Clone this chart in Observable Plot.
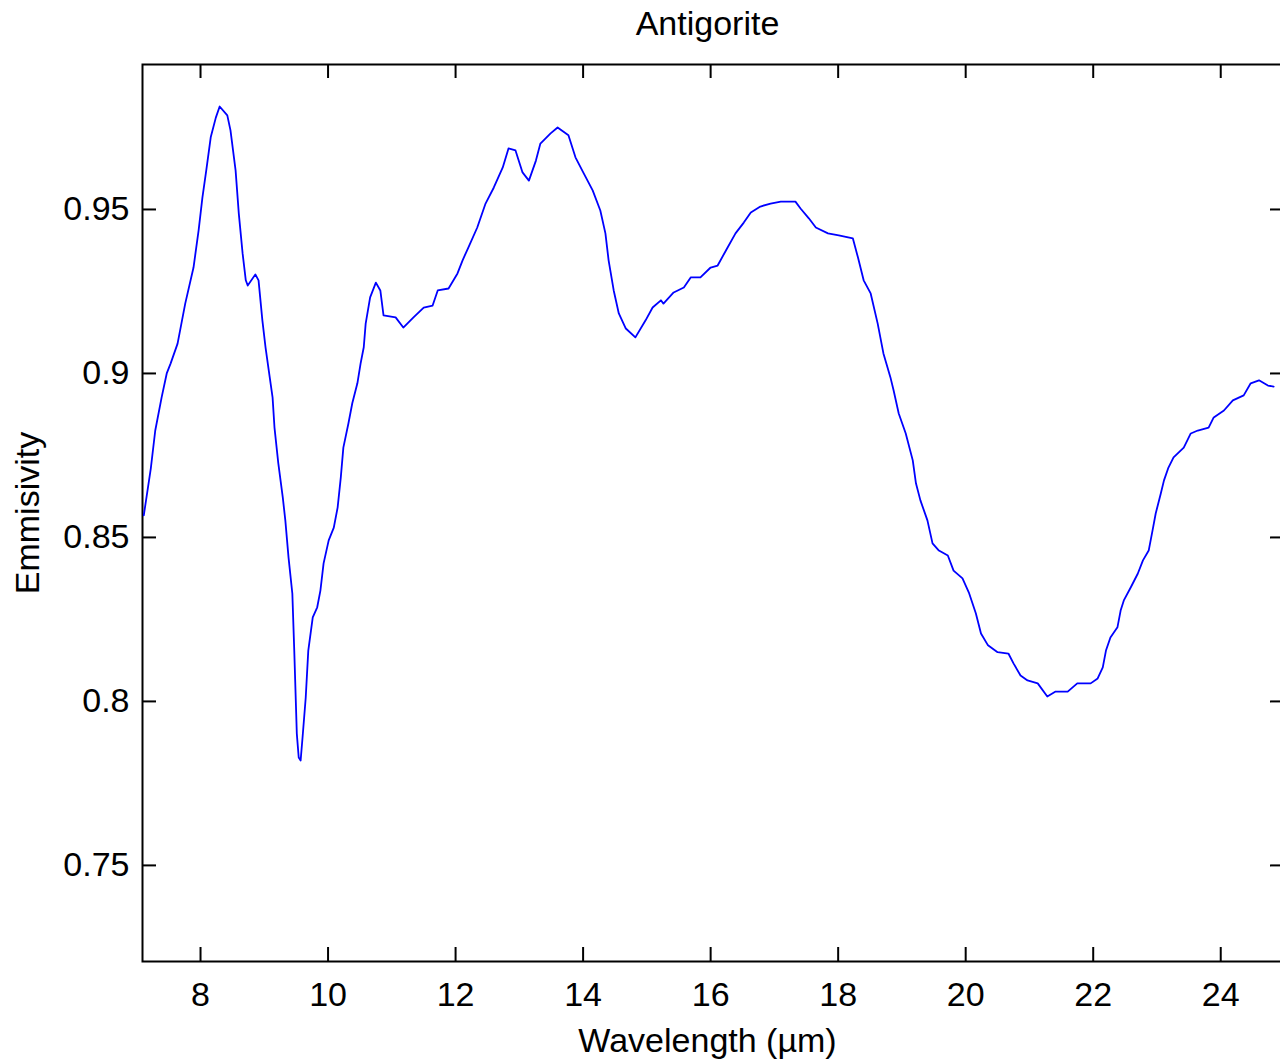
<!DOCTYPE html>
<html>
<head>
<meta charset="utf-8">
<script src="https://cdn.jsdelivr.net/npm/d3@7"></script>
<script src="https://cdn.jsdelivr.net/npm/@observablehq/plot@0.6"></script>
<style>
  html, body { margin: 0; padding: 0; background: #fff; overflow: hidden; }
  #chart svg { display: block; overflow: hidden; }
</style>
</head>
<body>
<div id="chart"></div>
<script>
const title = "Antigorite";
const xLabel = "Wavelength (\u00b5m)";
const yLabel = "Emmisivity";

const xTicks = [8, 10, 12, 14, 16, 18, 20, 22, 24];
const xTickLabels = ["8", "10", "12", "14", "16", "18", "20", "22", "24"];
const yTicks = [0.75, 0.8, 0.85, 0.9, 0.95];
const yTickLabels = ["0.75", "0.8", "0.85", "0.9", "0.95"];

const wavelength = [
  7.11, 7.22, 7.29, 7.39, 7.47, 7.53, 7.64, 7.76, 7.89, 7.97,
  8.03, 8.09, 8.16, 8.24, 8.30, 8.42, 8.47, 8.55, 8.60, 8.66,
  8.71, 8.74, 8.86, 8.91, 8.97, 9.02, 9.07, 9.13, 9.16, 9.22,
  9.29, 9.33, 9.38, 9.44, 9.47, 9.51, 9.54, 9.57, 9.60, 9.65,
  9.69, 9.76, 9.83, 9.88, 9.93, 10.01, 10.09, 10.15, 10.20, 10.24,
  10.32, 10.38, 10.46, 10.51, 10.56, 10.59, 10.66, 10.75, 10.82, 10.87,
  11.06, 11.18, 11.34, 11.50, 11.64, 11.72, 11.89, 12.03, 12.11, 12.20,
  12.34, 12.47, 12.60, 12.74, 12.83, 12.94, 13.05, 13.15, 13.26, 13.33,
  13.49, 13.60, 13.77, 13.88, 14.01, 14.15, 14.27, 14.35, 14.40, 14.48,
  14.56, 14.67, 14.82, 14.98, 15.09, 15.22, 15.26, 15.42, 15.58, 15.69,
  15.84, 16.00, 16.11, 16.24, 16.39, 16.52, 16.63, 16.78, 16.94, 17.10,
  17.33, 17.41, 17.54, 17.65, 17.84, 18.01, 18.23, 18.31, 18.40, 18.51,
  18.62, 18.71, 18.82, 18.87, 18.95, 19.06, 19.17, 19.22, 19.29, 19.40,
  19.48, 19.58, 19.72, 19.81, 19.95, 20.05, 20.16, 20.24, 20.35, 20.50,
  20.67, 20.75, 20.86, 20.97, 21.13, 21.28, 21.41, 21.60, 21.75, 21.96,
  22.07, 22.15, 22.20, 22.27, 22.38, 22.43, 22.48, 22.59, 22.70, 22.78,
  22.87, 22.93, 22.98, 23.06, 23.11, 23.18, 23.26, 23.42, 23.53, 23.64,
  23.81, 23.89, 24.05, 24.19, 24.36, 24.47, 24.60, 24.74, 24.83
];
const emissivity = [
  0.8567, 0.8710, 0.8826, 0.8927, 0.9000, 0.9030, 0.9091, 0.9213, 0.9323, 0.9436,
  0.9537, 0.9619, 0.9720, 0.9780, 0.9814, 0.9787, 0.9741, 0.9619, 0.9488, 0.9366,
  0.9284, 0.9268, 0.9302, 0.9284, 0.9162, 0.9079, 0.9009, 0.8927, 0.8835, 0.8726,
  0.8622, 0.8552, 0.8439, 0.8329, 0.8155, 0.7902, 0.7829, 0.7820, 0.7890, 0.8012,
  0.8155, 0.8256, 0.8287, 0.8338, 0.8421, 0.8491, 0.8530, 0.8591, 0.8683, 0.8774,
  0.8848, 0.8909, 0.8970, 0.9030, 0.9080, 0.9152, 0.9232, 0.9277, 0.9253, 0.9177,
  0.9171, 0.9140, 0.9171, 0.9201, 0.9207, 0.9253, 0.9259, 0.9305, 0.9345, 0.9384,
  0.9445, 0.9518, 0.9567, 0.9628, 0.9686, 0.9680, 0.9613, 0.9588, 0.9649, 0.9701,
  0.9732, 0.9750, 0.9726, 0.9659, 0.9610, 0.9558, 0.9497, 0.9427, 0.9345, 0.9253,
  0.9183, 0.9137, 0.9110, 0.9162, 0.9201, 0.9223, 0.9213, 0.9247, 0.9262, 0.9293,
  0.9293, 0.9323, 0.9329, 0.9375, 0.9427, 0.9460, 0.9491, 0.9509, 0.9518, 0.9524,
  0.9524, 0.9503, 0.9473, 0.9445, 0.9427, 0.9421, 0.9412, 0.9354, 0.9284, 0.9244,
  0.9152, 0.9061, 0.8988, 0.8948, 0.8878, 0.8817, 0.8735, 0.8665, 0.8613, 0.8552,
  0.8482, 0.8460, 0.8445, 0.8399, 0.8375, 0.8332, 0.8268, 0.8207, 0.8171, 0.8150,
  0.8146, 0.8116, 0.8079, 0.8064, 0.8055, 0.8015, 0.8030, 0.8030, 0.8055, 0.8055,
  0.8070, 0.8104, 0.8155, 0.8195, 0.8226, 0.8277, 0.8308, 0.8348, 0.8390, 0.8430,
  0.8460, 0.8521, 0.8573, 0.8634, 0.8674, 0.8713, 0.8744, 0.8774, 0.8817, 0.8826,
  0.8835, 0.8866, 0.8887, 0.8918, 0.8933, 0.8970, 0.8979, 0.8963, 0.8960
];

const data = wavelength.map((w, i) => ({w, e: emissivity[i]}));
const xt = xTicks.map((v, i) => ({v, label: xTickLabels[i]}));
const yt = yTicks.map((v, i) => ({v, label: yTickLabels[i]}));

const W = 1280, H = 1062;
const mL = 142, mT = 64, mB = 101, mR = -4;
const plotW = W - mL - mR;
const plotH = H - mT - mB;
const tickLen = 14;
const font = "'Liberation Sans', Arial, Helvetica, sans-serif";
const fs = 34;

const chart = Plot.plot({
  width: W,
  height: H,
  marginLeft: mL,
  marginRight: mR,
  marginTop: mT,
  marginBottom: mB,
  style: {fontFamily: font, fontSize: fs + "px", background: "white", color: "black"},
  x: {domain: [7.09, 25.0], axis: null},
  y: {domain: [0.7207, 0.9942], axis: null},
  marks: [
    // inward ticks on all four sides
    Plot.tickX(xt, {x: "v", insetTop: plotH - tickLen, stroke: "black", strokeWidth: 2}),
    Plot.tickX(xt, {x: "v", insetBottom: plotH - tickLen, stroke: "black", strokeWidth: 2}),
    Plot.tickY(yt, {y: "v", insetRight: plotW - tickLen, stroke: "black", strokeWidth: 2}),
    Plot.tickY(yt, {y: "v", insetLeft: plotW - tickLen, stroke: "black", strokeWidth: 2}),
    Plot.frame({stroke: "black", strokeWidth: 2}),
    Plot.line(data, {x: "w", y: "e", stroke: "#0000ff", strokeWidth: 1.8, curve: "linear"}),
    // tick labels
    Plot.text(xt, {x: "v", text: "label", frameAnchor: "bottom", dy: 34, lineAnchor: "middle",
      textAnchor: "middle", fill: "black", fontSize: fs}),
    Plot.text(yt, {y: "v", text: "label", frameAnchor: "left", dx: -13, lineAnchor: "middle",
      textAnchor: "end", fill: "black", fontSize: fs}),
    // title and axis labels
    Plot.text([title], {frameAnchor: "top", dx: -6, dy: -40, lineAnchor: "middle",
      textAnchor: "middle", fill: "black", fontSize: fs}),
    Plot.text([xLabel], {frameAnchor: "bottom", dx: -6, dy: 80, lineAnchor: "middle",
      textAnchor: "middle", fill: "black", fontSize: fs}),
    Plot.text([yLabel], {frameAnchor: "left", dx: -114, rotate: -90, lineAnchor: "middle",
      textAnchor: "middle", fill: "black", fontSize: fs})
  ]
});
document.getElementById("chart").appendChild(chart);
</script>
</body>
</html>
